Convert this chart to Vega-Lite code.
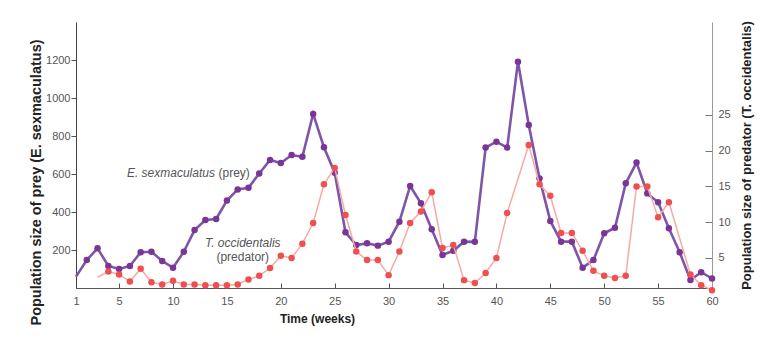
{
  "$schema": "https://vega.github.io/schema/vega-lite/v6.json",
  "width": 636,
  "height": 266,
  "autosize": {"type": "none"},
  "padding": {"left": 76, "top": 22, "right": 58, "bottom": 60},
  "background": "white",
  "config": {
    "view": {"stroke": null},
    "font": "Liberation Sans",
    "axis": {
      "grid": false,
      "labelFont": "Liberation Sans",
      "labelFontSize": 11,
      "labelColor": "#555555",
      "titleFont": "Liberation Sans",
      "titleFontSize": 13,
      "titleFontWeight": "bold",
      "titleColor": "#222222",
      "domainColor": "#555555",
      "tickColor": "#555555"
    }
  },
  "datasets": {
    "prey": [
      {"week": 1, "prey": 60}, {"week": 2, "prey": 147}, {"week": 3, "prey": 209}, {"week": 4, "prey": 116},
      {"week": 5, "prey": 100}, {"week": 6, "prey": 116}, {"week": 7, "prey": 188}, {"week": 8, "prey": 191},
      {"week": 9, "prey": 142}, {"week": 10, "prey": 107}, {"week": 11, "prey": 191}, {"week": 12, "prey": 305},
      {"week": 13, "prey": 358}, {"week": 14, "prey": 363}, {"week": 15, "prey": 460}, {"week": 16, "prey": 519},
      {"week": 17, "prey": 528}, {"week": 18, "prey": 603}, {"week": 19, "prey": 674}, {"week": 20, "prey": 658},
      {"week": 21, "prey": 700}, {"week": 22, "prey": 691}, {"week": 23, "prey": 916}, {"week": 24, "prey": 741},
      {"week": 25, "prey": 607}, {"week": 26, "prey": 293}, {"week": 27, "prey": 226}, {"week": 28, "prey": 235},
      {"week": 29, "prey": 223}, {"week": 30, "prey": 244}, {"week": 31, "prey": 349}, {"week": 32, "prey": 537},
      {"week": 33, "prey": 446}, {"week": 34, "prey": 309}, {"week": 35, "prey": 174}, {"week": 36, "prey": 196},
      {"week": 37, "prey": 244}, {"week": 38, "prey": 243}, {"week": 39, "prey": 739}, {"week": 40, "prey": 770},
      {"week": 41, "prey": 739}, {"week": 42, "prey": 1191}, {"week": 43, "prey": 858}, {"week": 44, "prey": 577},
      {"week": 45, "prey": 353}, {"week": 46, "prey": 244}, {"week": 47, "prey": 244}, {"week": 48, "prey": 107},
      {"week": 49, "prey": 147}, {"week": 50, "prey": 288}, {"week": 51, "prey": 317}, {"week": 52, "prey": 551},
      {"week": 53, "prey": 660}, {"week": 54, "prey": 498}, {"week": 55, "prey": 451}, {"week": 56, "prey": 314},
      {"week": 57, "prey": 188}, {"week": 58, "prey": 42}, {"week": 59, "prey": 83}, {"week": 60, "prey": 50}
    ],
    "predator": [
      {"week": 3, "predator": 2.3}, {"week": 4, "predator": 3.1}, {"week": 5, "predator": 2.7}, {"week": 6, "predator": 1.7},
      {"week": 7, "predator": 3.5}, {"week": 8, "predator": 1.6}, {"week": 9, "predator": 1.3}, {"week": 10, "predator": 1.8},
      {"week": 11, "predator": 1.3}, {"week": 12, "predator": 1.3}, {"week": 13, "predator": 1.2}, {"week": 14, "predator": 1.2},
      {"week": 15, "predator": 1.2}, {"week": 16, "predator": 1.3}, {"week": 17, "predator": 2.0}, {"week": 18, "predator": 2.5},
      {"week": 19, "predator": 3.6}, {"week": 20, "predator": 5.3}, {"week": 21, "predator": 5.0}, {"week": 22, "predator": 7.0},
      {"week": 23, "predator": 9.9}, {"week": 24, "predator": 15.3}, {"week": 25, "predator": 17.6}, {"week": 26, "predator": 11.0},
      {"week": 27, "predator": 5.9}, {"week": 28, "predator": 4.7}, {"week": 29, "predator": 4.7}, {"week": 30, "predator": 2.6},
      {"week": 31, "predator": 5.9}, {"week": 32, "predator": 9.9}, {"week": 33, "predator": 11.5}, {"week": 34, "predator": 14.2},
      {"week": 35, "predator": 6.4}, {"week": 36, "predator": 6.8}, {"week": 37, "predator": 1.9}, {"week": 38, "predator": 1.5},
      {"week": 39, "predator": 2.9}, {"week": 40, "predator": 5.0}, {"week": 41, "predator": 11.3}, {"week": 43, "predator": 20.8},
      {"week": 44, "predator": 15.3}, {"week": 45, "predator": 13.7}, {"week": 46, "predator": 8.5}, {"week": 47, "predator": 8.5},
      {"week": 48, "predator": 6.0}, {"week": 49, "predator": 3.2}, {"week": 50, "predator": 2.5}, {"week": 51, "predator": 2.2},
      {"week": 52, "predator": 2.5}, {"week": 53, "predator": 15.0}, {"week": 54, "predator": 15.0}, {"week": 55, "predator": 10.7},
      {"week": 56, "predator": 12.8}, {"week": 58, "predator": 2.7}, {"week": 59, "predator": 1.2}, {"week": 60, "predator": 0.5}
    ]
  },
  "encoding": {
    "x": {
      "field": "week",
      "type": "quantitative",
      "scale": {"domain": [1, 60], "nice": false, "zero": false},
      "axis": {
        "values": [1, 5, 10, 15, 20, 25, 30, 35, 40, 45, 50, 55, 60],
        "format": "d",
        "tickSize": -5,
        "labelPadding": 12,
        "labelFlush": false,
        "domainColor": "#555555",
        "title": "Time (weeks)",
        "titleX": 241,
        "titleY": 30,
        "titleAlign": "center",
        "titleBaseline": "middle",
        "titleFontSize": 12
      }
    }
  },
  "layer": [
    {
      "layer": [
        {
          "data": {"name": "prey"},
          "mark": {"type": "line", "color": "#7e56a8", "strokeWidth": 2.6},
          "encoding": {
            "y": {
              "field": "prey",
              "type": "quantitative",
              "scale": {"domain": [0, 1400], "nice": false},
              "axis": {
                "values": [200, 400, 600, 800, 1000, 1200],
                "format": "d",
                "tickSize": 5,
                "labelPadding": 1,
                "domainColor": "#444444",
                "title": "Population size of prey (E. sexmaculatus)",
                "titleFontSize": 14.5,
                "titleAngle": 270,
                "titleX": -40,
                "titleY": 160,
                "titleAlign": "center",
                "titleBaseline": "middle"
              }
            }
          }
        },
        {
          "data": {"name": "prey"},
          "transform": [{"filter": "datum.week >= 2"}],
          "mark": {"type": "point", "filled": true, "opacity": 1, "color": "#7b3597", "size": 42},
          "encoding": {"y": {"field": "prey", "type": "quantitative"}}
        },
        {
          "data": {"values": [{"week": 13.89, "prey": 607, "label": "E. sexmaculatus"}]},
          "mark": {"type": "text", "align": "right", "baseline": "middle", "fontStyle": "italic", "fontSize": 12, "color": "#555555"},
          "encoding": {"y": {"field": "prey", "type": "quantitative"}, "text": {"field": "label"}}
        },
        {
          "data": {"values": [{"week": 14.22, "prey": 607, "label": "(prey)"}]},
          "mark": {"type": "text", "align": "left", "baseline": "middle", "fontSize": 12, "color": "#555555"},
          "encoding": {"y": {"field": "prey", "type": "quantitative"}, "text": {"field": "label"}}
        },
        {
          "data": {"values": [{"week": 16.47, "prey": 237, "label": "T. occidentalis"}]},
          "mark": {"type": "text", "align": "center", "baseline": "middle", "fontStyle": "italic", "fontSize": 12, "color": "#555555"},
          "encoding": {"y": {"field": "prey", "type": "quantitative"}, "text": {"field": "label"}}
        },
        {
          "data": {"values": [{"week": 16.47, "prey": 163, "label": "(predator)"}]},
          "mark": {"type": "text", "align": "center", "baseline": "middle", "fontSize": 12, "color": "#555555"},
          "encoding": {"y": {"field": "prey", "type": "quantitative"}, "text": {"field": "label"}}
        }
      ]
    },
    {
      "layer": [
        {
          "data": {"name": "predator"},
          "mark": {"type": "line", "color": "#f6aaa4", "strokeWidth": 1.5},
          "encoding": {
            "y": {
              "field": "predator",
              "type": "quantitative",
              "scale": {"domain": [0.8, 38], "nice": false, "zero": false},
              "axis": {
                "orient": "right",
                "values": [5, 10, 15, 20, 25],
                "tickSize": -7,
                "labelPadding": 13,
                "domainColor": "#9a9a9a",
                "tickColor": "#777777",
                "title": "Population size of predator (T. occidentalis)",
                "titleAngle": 270,
                "titleX": 34,
                "titleY": 133,
                "titleAlign": "center",
                "titleBaseline": "middle"
              }
            }
          }
        },
        {
          "data": {"name": "predator"},
          "transform": [{"filter": "datum.week >= 4"}],
          "mark": {"type": "point", "filled": true, "opacity": 1, "color": "#f04f50", "size": 42},
          "encoding": {"y": {"field": "predator", "type": "quantitative"}}
        }
      ]
    }
  ],
  "resolve": {"scale": {"y": "independent"}, "axis": {"y": "independent"}}
}
